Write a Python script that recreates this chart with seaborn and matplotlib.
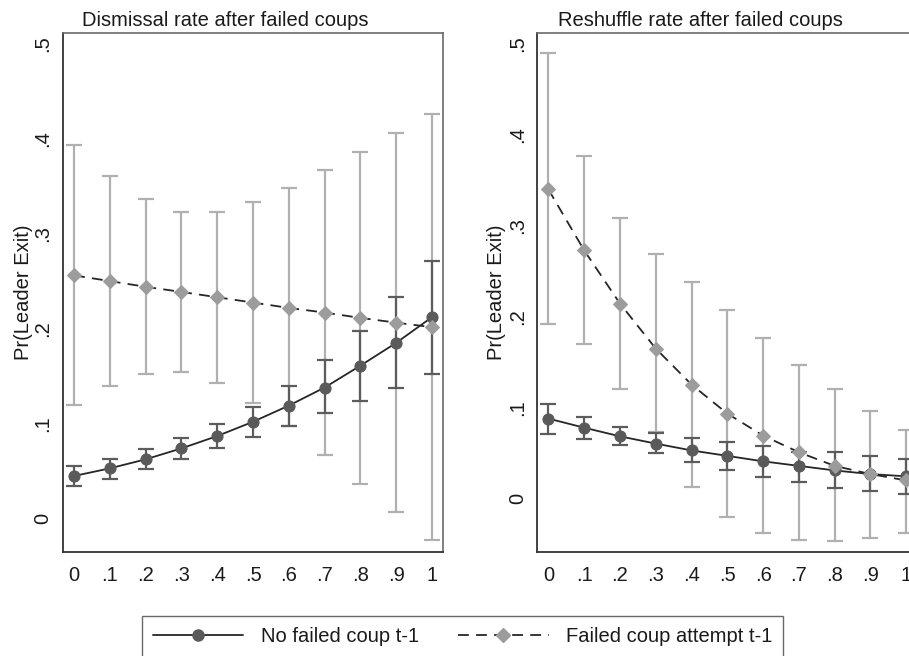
import numpy as np
import pandas as pd
import matplotlib
matplotlib.use("Agg")
import matplotlib.pyplot as plt
from matplotlib.lines import Line2D
import seaborn as sns

# ---------------- data ----------------
x_vals = [0.0, 0.1, 0.2, 0.3, 0.4, 0.5, 0.6, 0.7, 0.8, 0.9, 1.0]
x_ticklabels = ["0", ".1", ".2", ".3", ".4", ".5", ".6", ".7", ".8", ".9", "1"]
y_ticks = [0.0, 0.1, 0.2, 0.3, 0.4, 0.5]
y_ticklabels = ["0", ".1", ".2", ".3", ".4", ".5"]

titles = ["Dismissal rate after failed coups", "Reshuffle rate after failed coups"]
series_labels = ["No failed coup t-1", "Failed coup attempt t-1"]
y_label = "Pr(Leader Exit)"

# Dismissal panel
dis_no = [0.045, 0.053, 0.0625, 0.074, 0.087, 0.102, 0.119, 0.138, 0.161, 0.185, 0.212]
dis_no_lo = [0.034, 0.042, 0.052, 0.0625, 0.0745, 0.086, 0.098, 0.111, 0.124, 0.138, 0.152]
dis_no_hi = [0.055, 0.063, 0.073, 0.085, 0.100, 0.118, 0.140, 0.167, 0.197, 0.233, 0.271]
dis_f = [0.256, 0.250, 0.244, 0.2386, 0.233, 0.2274, 0.2218, 0.2169, 0.2113, 0.2063, 0.2015]
dis_f_lo = [0.120, 0.140, 0.152, 0.154, 0.143, 0.122, 0.098, 0.067, 0.037, 0.007, -0.022]
dis_f_hi = [0.393, 0.361, 0.336, 0.323, 0.323, 0.333, 0.348, 0.367, 0.386, 0.406, 0.426]

# Reshuffle panel
res_no = [0.088, 0.078, 0.0685, 0.0605, 0.053, 0.047, 0.041, 0.036, 0.031, 0.027, 0.0245]
res_no_lo = [0.071, 0.066, 0.059, 0.050, 0.040, 0.031, 0.024, 0.018, 0.012, 0.008, 0.005]
res_no_hi = [0.1045, 0.0894, 0.0784, 0.0718, 0.067, 0.062, 0.058, 0.051, 0.051, 0.047, 0.0435]
res_f = [0.340, 0.273, 0.2145, 0.165, 0.1254, 0.0935, 0.0693, 0.051, 0.036, 0.027, 0.020]
res_f_lo = [0.192, 0.1705, 0.1206, 0.073, 0.0125, -0.0198, -0.038, -0.045, -0.0465, -0.043, -0.038]
res_f_hi = [0.4895, 0.377, 0.309, 0.2695, 0.2383, 0.2071, 0.1763, 0.1466, 0.120, 0.096, 0.076]

panels = [
    (dis_no, dis_no_lo, dis_no_hi, dis_f, dis_f_lo, dis_f_hi, (-0.035, 0.511)),
    (res_no, res_no_lo, res_no_hi, res_f, res_f_lo, res_f_hi, (-0.0587, 0.512)),
]

# ---------------- style ----------------
sns.set_theme(style="white")
plt.rcParams["font.family"] = ["Liberation Sans", "DejaVu Sans"]

DARK_M = "#5a5a5a"
DARK_EB = "#5c5c5c"
LINE_C = "#262626"
LIGHT_M = "#9c9c9c"
LIGHT_EB = "#b0b0b0"
DASH = (0, (6, 4))
FS = 14.5

fig = plt.figure(figsize=(9.09, 6.56), dpi=100)
W, H = 909.0, 656.0
ax_lefts = [63.0, 537.3]
ax_w = 380.0
ax_bottom_px = 552.0
ax_top_px = 33.0
ylabel_x = [-0.079, -0.083]
title_x = [0.4276, 0.428]

for i, (no, no_lo, no_hi, f, f_lo, f_hi, ylim) in enumerate(panels):
    ax = fig.add_axes([ax_lefts[i] / W, 1 - ax_bottom_px / H, ax_w / W,
                       (ax_bottom_px - ax_top_px) / H])
    xs = np.array(x_vals)
    no = np.array(no); f = np.array(f)
    # error bars
    ax.errorbar(xs, f, yerr=[f - np.array(f_lo), np.array(f_hi) - f], fmt="none",
                ecolor=LIGHT_EB, elinewidth=1.6, capsize=5.5, capthick=1.6, zorder=2)
    ax.errorbar(xs, no, yerr=[no - np.array(no_lo), np.array(no_hi) - no], fmt="none",
                ecolor=DARK_EB, elinewidth=1.6, capsize=5.5, capthick=1.6, zorder=2.5)
    df_no = pd.DataFrame({"x": xs, "y": no})
    df_f = pd.DataFrame({"x": xs, "y": f})
    sns.lineplot(data=df_no, x="x", y="y", ax=ax, color=LINE_C, linewidth=1.3,
                 marker="o", markersize=8, markerfacecolor=DARK_M,
                 markeredgecolor=DARK_M, errorbar=None, zorder=3)
    sns.lineplot(data=df_f, x="x", y="y", ax=ax, color=LINE_C, linewidth=1.3,
                 marker="D", markersize=7.5, markerfacecolor=LIGHT_M,
                 markeredgecolor=LIGHT_M, errorbar=None, zorder=4)
    ax.lines[-1].set_linestyle(DASH)

    ax.set_xlim(-0.031, 1.031)
    ax.set_ylim(*ylim)
    ax.set_xticks(x_vals)
    ax.set_xticklabels(x_ticklabels)
    ax.set_yticks(y_ticks)
    ax.set_yticklabels(y_ticklabels, rotation=90, va="center")
    ax.tick_params(axis="both", which="major", length=6, width=1.2,
                   color="#333333", labelsize=FS, labelcolor="#1a1a1a")
    ax.tick_params(axis="x", pad=4)
    ax.tick_params(axis="y", pad=1.5)
    ax.set_xlabel("")
    ax.set_ylabel(y_label, fontsize=FS, color="#1a1a1a")
    ax.yaxis.set_label_coords(ylabel_x[i], 0.5)
    ax.set_title(titles[i], fontsize=FS, color="#1a1a1a", pad=5, x=title_x[i])
    for side in ["left", "bottom"]:
        ax.spines[side].set_color("#333333")
        ax.spines[side].set_linewidth(1.3)
    for side in ["top", "right"]:
        ax.spines[side].set_color("#6a6a6a")
        ax.spines[side].set_linewidth(1.2)
    ax.grid(False)

handles = [
    Line2D([0], [0], color=LINE_C, lw=1.3, marker="o", markersize=8,
           markerfacecolor=DARK_M, markeredgecolor=DARK_M),
    Line2D([0], [0], color=LINE_C, lw=1.3, linestyle=DASH, marker="D",
           markersize=7.5, markerfacecolor=LIGHT_M, markeredgecolor=LIGHT_M),
]
leg = fig.legend(handles, series_labels, loc="upper center",
                 bbox_to_anchor=(462.5 / W, 1 - 615.5 / H), ncol=2,
                 fontsize=FS, frameon=True, fancybox=False, shadow=False,
                 handlelength=4.5, handletextpad=0.85, columnspacing=1.95,
                 borderpad=0.55, borderaxespad=0)
leg.get_frame().set_edgecolor("#444444")
leg.get_frame().set_linewidth(1.0)
for t in leg.get_texts():
    t.set_color("#1a1a1a")

fig.savefig("out.png", dpi=100)
